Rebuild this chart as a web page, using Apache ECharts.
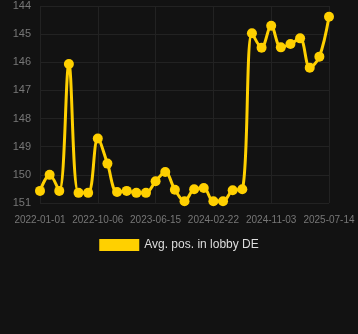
<!DOCTYPE html>
<html><head><meta charset="utf-8">
<script src="https://cdn.jsdelivr.net/npm/echarts@6/dist/echarts.min.js"></script>
<style>html,body{margin:0;padding:0;background:#121212}#c{width:358px;height:334px}</style>
</head><body><div id="c"></div>
<script>
const categories = [
  "2022-01-01","2022-02-16","2022-04-03","2022-05-19","2022-07-04","2022-08-20",
  "2022-10-06","2022-11-17","2022-12-29","2023-02-09","2023-03-23","2023-05-04",
  "2023-06-15","2023-07-27","2023-09-07","2023-10-19","2023-11-30","2024-01-11",
  "2024-02-22","2024-04-04","2024-05-17","2024-06-29","2024-08-10","2024-09-21",
  "2024-11-03","2024-12-15","2025-01-26","2025-03-09","2025-04-20","2025-06-01",
  "2025-07-14"
];
const seriesName = "Avg. pos. in lobby DE";
const values = [
  150.57, 150.0, 150.57, 146.06, 150.64, 150.64,
  148.71, 149.6, 150.61, 150.57, 150.64, 150.64,
  150.23, 149.9, 150.53, 150.94, 150.51, 150.47,
  150.94, 150.94, 150.55, 150.51, 144.97, 145.48,
  144.7, 145.47, 145.35, 145.15, 146.19, 145.8,
  144.38
];
const yTicks = { min: 144, max: 151, interval: 1 };

const chart = echarts.init(document.getElementById('c'), null, { renderer: 'canvas' });
chart.setOption({
  backgroundColor: '#121212',
  animation: false,
  grid: { left: 40, right: 29, top: 6, bottom: 131 },
  legend: {
    data: [seriesName],
    bottom: 78,
    left: 'center',
    itemWidth: 40,
    itemHeight: 12,
    icon: 'rect',
    textStyle: { color: '#dddddd', fontSize: 12 }
  },
  xAxis: {
    type: 'category',
    data: categories,
    boundaryGap: false,
    axisLine: { show: false },
    axisTick: { show: false },
    axisLabel: { color: '#777777', fontSize: 10, interval: 5, margin: 12 },
    splitLine: { show: true, interval: 5, lineStyle: { color: '#222222', width: 1 } }
  },
  yAxis: {
    type: 'value',
    inverse: true,
    min: yTicks.min,
    max: yTicks.max,
    interval: yTicks.interval,
    axisLine: { show: false },
    axisTick: { show: false },
    axisLabel: { color: '#777777', fontSize: 11, margin: 9 },
    splitLine: { lineStyle: { color: '#222222', width: 1 } }
  },
  series: [{
    name: seriesName,
    type: 'line',
    data: values,
    smooth: 0.35,
    showAllSymbol: true,
    symbol: 'circle',
    symbolSize: 10,
    itemStyle: { color: '#FFD000' },
    lineStyle: { color: '#FFD000', width: 3 }
  }]
});
</script></body></html>
